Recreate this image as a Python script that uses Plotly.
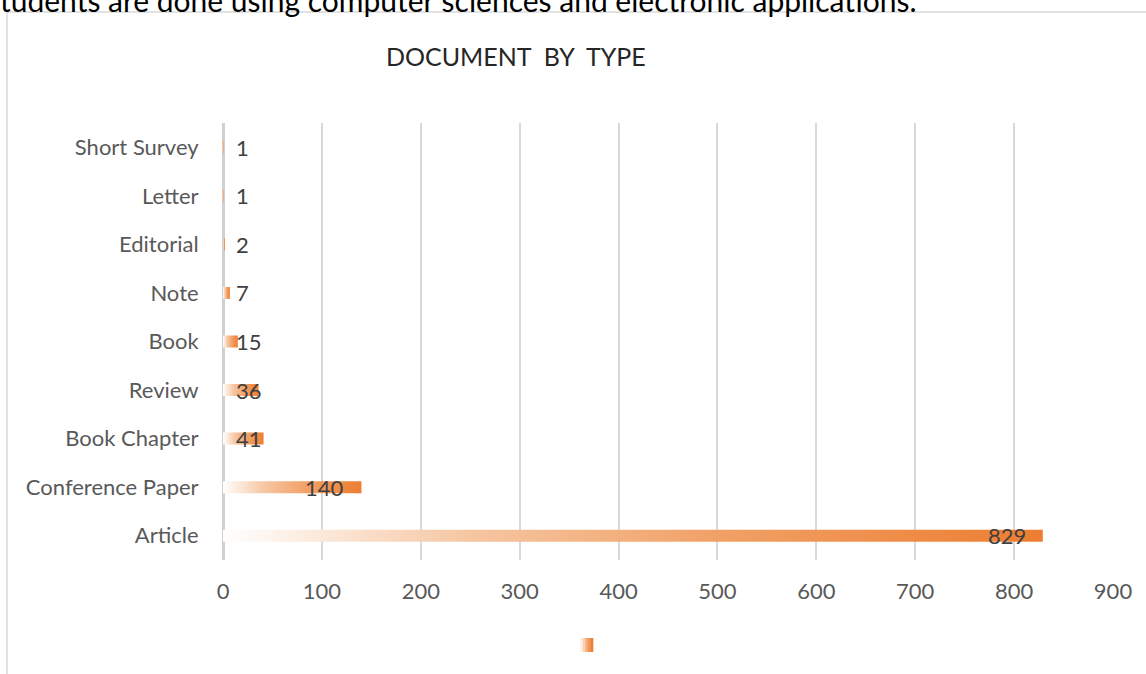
import plotly.graph_objects as go

categories = ["Article", "Conference Paper", "Book Chapter", "Review", "Book",
              "Note", "Editorial", "Letter", "Short Survey"]
values = [829, 140, 41, 36, 15, 7, 2, 1, 1]
x_ticks = [0, 100, 200, 300, 400, 500, 600, 700, 800, 900]
title_text = "DOCUMENT\u00a0 BY\u00a0 TYPE"
page_text = "students are done using computer sciences and electronic applications."

W, H = 1146, 674
ML, MR, MT, MB = 223, 33, 123, 114
PW, PH = W - ML - MR, H - MT - MB
XMAX = 900

def px_x(px):
    return (px - ML) / PW

def px_y(py):
    return (H - MB - py) / PH

orange = "#ED7D31"
grad = [[0, "rgba(255,255,255,1)"], [0.3, "#F6C6A2"], [0.6, "#F1A167"], [1, orange]]

fig = go.Figure()
half = 6 / (PH / len(categories))
for i, (c, v) in enumerate(zip(categories, values)):
    fig.add_trace(go.Scatter(
        x=[0, v, v, 0, 0], y=[i - half, i - half, i + half, i + half, i - half],
        mode="lines", line=dict(width=0), fill="toself",
        fillgradient=dict(type="horizontal", colorscale=grad),
        hoverinfo="skip", showlegend=False))

FS = 22
ppu = PW / XMAX
annotations = []
for i, v in enumerate(values):
    s = str(v)
    w = len(s) * 11.5
    right_px = v * ppu - 17
    if right_px - w < 13:
        annotations.append(dict(x=0, y=i, xref="x", yref="y", text=s, showarrow=False,
                                xanchor="left", xshift=11, yshift=0,
                                font=dict(size=FS, color="#404040", family="Lato")))
    else:
        annotations.append(dict(x=v, y=i, xref="x", yref="y", text=s, showarrow=False,
                                xanchor="right", xshift=-15, yshift=0,
                                font=dict(size=FS, color="#404040", family="Lato")))

annotations.append(dict(x=px_x(516), y=px_y(56), xref="paper", yref="paper", text=title_text,
                        showarrow=False, xanchor="center", yanchor="middle",
                        font=dict(size=25, color="#262626", family="Lato")))
annotations.append(dict(x=px_x(-15), y=px_y(20), xref="paper", yref="paper", text=page_text,
                        showarrow=False, xanchor="left", yanchor="bottom",
                        font=dict(size=30, color="#000000", family="Lato")))

shapes = [
    dict(type="line", xref="paper", yref="paper", x0=px_x(7), x1=px_x(W + 5),
         y0=px_y(12), y1=px_y(12), line=dict(color="#D9D9D9", width=1.5)),
    dict(type="line", xref="paper", yref="paper", x0=px_x(7), x1=px_x(7),
         y0=px_y(12), y1=px_y(H + 5), line=dict(color="#D9D9D9", width=1.5)),
]
leg_cols = ["#FDF1E8", "#F9D2B4", "#F4AF7E", "#F09457", "#ED7D31"]
for k, col in enumerate(leg_cols):
    x0 = 580 + k * 13 / len(leg_cols)
    shapes.append(dict(type="rect", xref="paper", yref="paper",
                       x0=px_x(x0), x1=px_x(x0 + 13 / len(leg_cols) + 0.3),
                       y0=px_y(652), y1=px_y(638), line=dict(width=0), fillcolor=col))

fig.update_layout(
    width=W, height=H, margin=dict(l=ML, r=MR, t=MT, b=MB),
    paper_bgcolor="white", plot_bgcolor="white",
    annotations=annotations, shapes=shapes, showlegend=False,
    xaxis=dict(range=[0, XMAX], tickvals=x_ticks, showgrid=True, gridcolor="#D9D9D9",
               gridwidth=1.5, zeroline=True, zerolinecolor="#D0D0D0", zerolinewidth=2.5,
               showline=False, ticks="outside", ticklen=12, tickcolor="rgba(0,0,0,0)",
               tickfont=dict(size=FS, color="#595959", family="Lato")),
    yaxis=dict(range=[-0.5, len(categories) - 0.5], tickvals=list(range(len(categories))),
               ticktext=categories, showgrid=False, zeroline=False, showline=False,
               ticks="outside", ticklen=19, tickcolor="rgba(0,0,0,0)",
               tickfont=dict(size=FS, color="#595959", family="Lato")),
    font=dict(family="Lato"),
)
fig.write_html("out.html", config={"displayModeBar": False},
               post_script="document.body.style.margin='0';document.body.style.overflow='hidden';")
